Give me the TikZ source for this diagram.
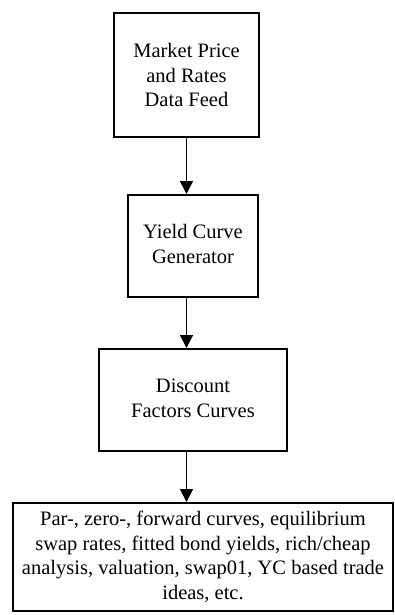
\documentclass[tikz,border=0pt]{standalone}
\usepackage{fontspec}
\setmainfont{Liberation Serif}
\newfontfamily\tnr{Liberation Serif}
\usetikzlibrary{arrows.meta}
\begin{document}
\begin{tikzpicture}[x=1pt,y=-1pt,
  box/.style={draw, line width=2pt, align=center, font=\tnr\fontsize{20.5}{24.5}\selectfont, inner sep=0pt},
  flow/.style={line width=1.6pt, -{Triangle[width=13pt,length=13pt]}}]
\useasboundingbox (0,0) rectangle (395,615);
\node[box, minimum width=145pt, minimum height=124pt] (feed) at (186.5,75) {Market Price\\and Rates\\Data Feed};
\node[box, minimum width=130pt, minimum height=102pt] (gen) at (193,246) {\raisebox{-5pt}{\begin{tabular}{@{}c@{}}Yield Curve\\Generator\end{tabular}}};
\node[box, minimum width=188pt, minimum height=102pt] (disc) at (193,400) {\raisebox{-4pt}{\begin{tabular}{@{}c@{}}Discount\\Factors Curves\end{tabular}}};
\node[box, minimum width=380pt, minimum height=108pt] (out) at (203,557) {Par-, zero-, forward curves, equilibrium\\swap rates, fitted bond yields, rich/cheap\\analysis, valuation, swap01, YC based trade\\ideas, etc.};
\draw[flow] (feed.south) -- (feed.south |- gen.north);
\draw[flow] (feed.south |- gen.south) -- (feed.south |- disc.north);
\draw[flow] (feed.south |- disc.south) -- (feed.south |- out.north);
\end{tikzpicture}
\end{document}
